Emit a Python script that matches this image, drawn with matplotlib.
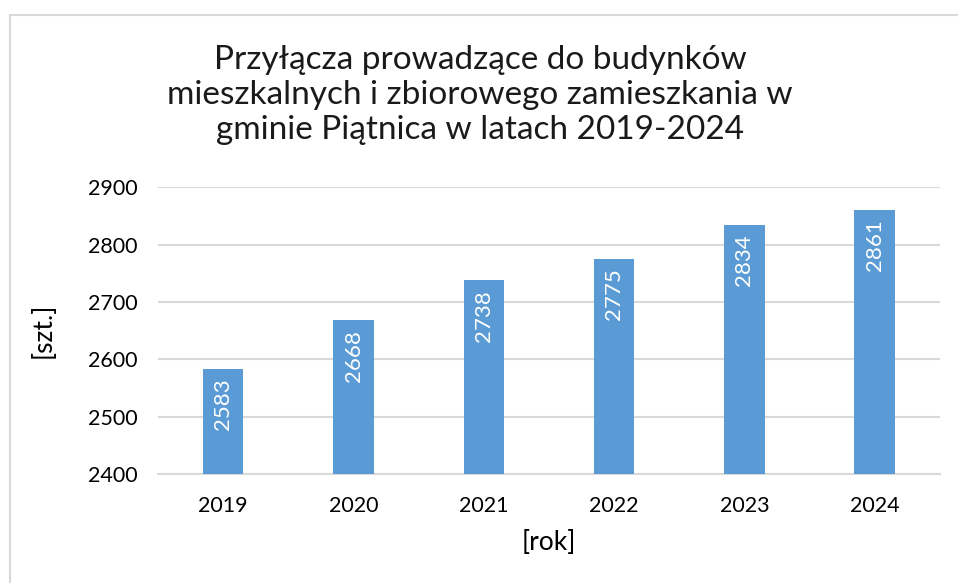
import matplotlib.pyplot as plt
from matplotlib.lines import Line2D

# data
years = ['2019', '2020', '2021', '2022', '2023', '2024']
przylacza = [2583, 2668, 2738, 2775, 2834, 2861]
y_ticks = [2400, 2500, 2600, 2700, 2800, 2900]

title = 'Przyłącza prowadzące do budynków\nmieszkalnych i zbiorowego zamieszkania w\ngminie Piątnica w latach 2019-2024'

plt.rcParams['font.family'] = ['Lato', 'DejaVu Sans']

fig = plt.figure(figsize=(9.58, 5.83), dpi=100)
ax = fig.add_axes([0.165, 0.187, 0.816, 0.492])

bar_color = '#5b9bd5'
grid_color = '#d9d9d9'

x = range(len(years))
bars = ax.bar(x, przylacza, width=0.31, color=bar_color, zorder=3)

for i, v in zip(x, przylacza):
    ax.annotate(str(v), xy=(i, v), xytext=(0, -7), textcoords='offset points',
                ha='center', va='top', rotation=90, color='white', fontsize=16,
                zorder=4)

ax.set_ylim(y_ticks[0], y_ticks[-1])
ax.set_yticks(y_ticks)
ax.set_xticks(list(x))
ax.set_xticklabels(years)
ax.set_xlim(-0.5, len(years) - 0.5)
ax.grid(axis='y', color=grid_color, linewidth=1.5, zorder=0)
ax.tick_params(length=0, labelsize=15.5, colors='#000000')
ax.tick_params(axis='x', pad=16)
ax.tick_params(axis='y', pad=15)
for side in ['top', 'right', 'left']:
    ax.spines[side].set_visible(False)
ax.spines['bottom'].set_color(grid_color)
ax.spines['bottom'].set_linewidth(1.5)

ax.set_xlabel('[rok]', fontsize=19, labelpad=10)
ax.set_ylabel('[szt.]', fontsize=19, labelpad=23)

fig.text(0.501, 0.837, title, ha='center', va='center', fontsize=24,
         color='#1a1a1a', linespacing=1.2)

# chart frame (only left and top edges visible in the crop)
fig.add_artist(Line2D([0.0104, 0.0104], [0, 0.974], color=grid_color, linewidth=1.5,
                      transform=fig.transFigure))
fig.add_artist(Line2D([0.0104, 1], [0.974, 0.974], color=grid_color, linewidth=1.5,
                      transform=fig.transFigure))

fig.savefig('out.png', dpi=100)
